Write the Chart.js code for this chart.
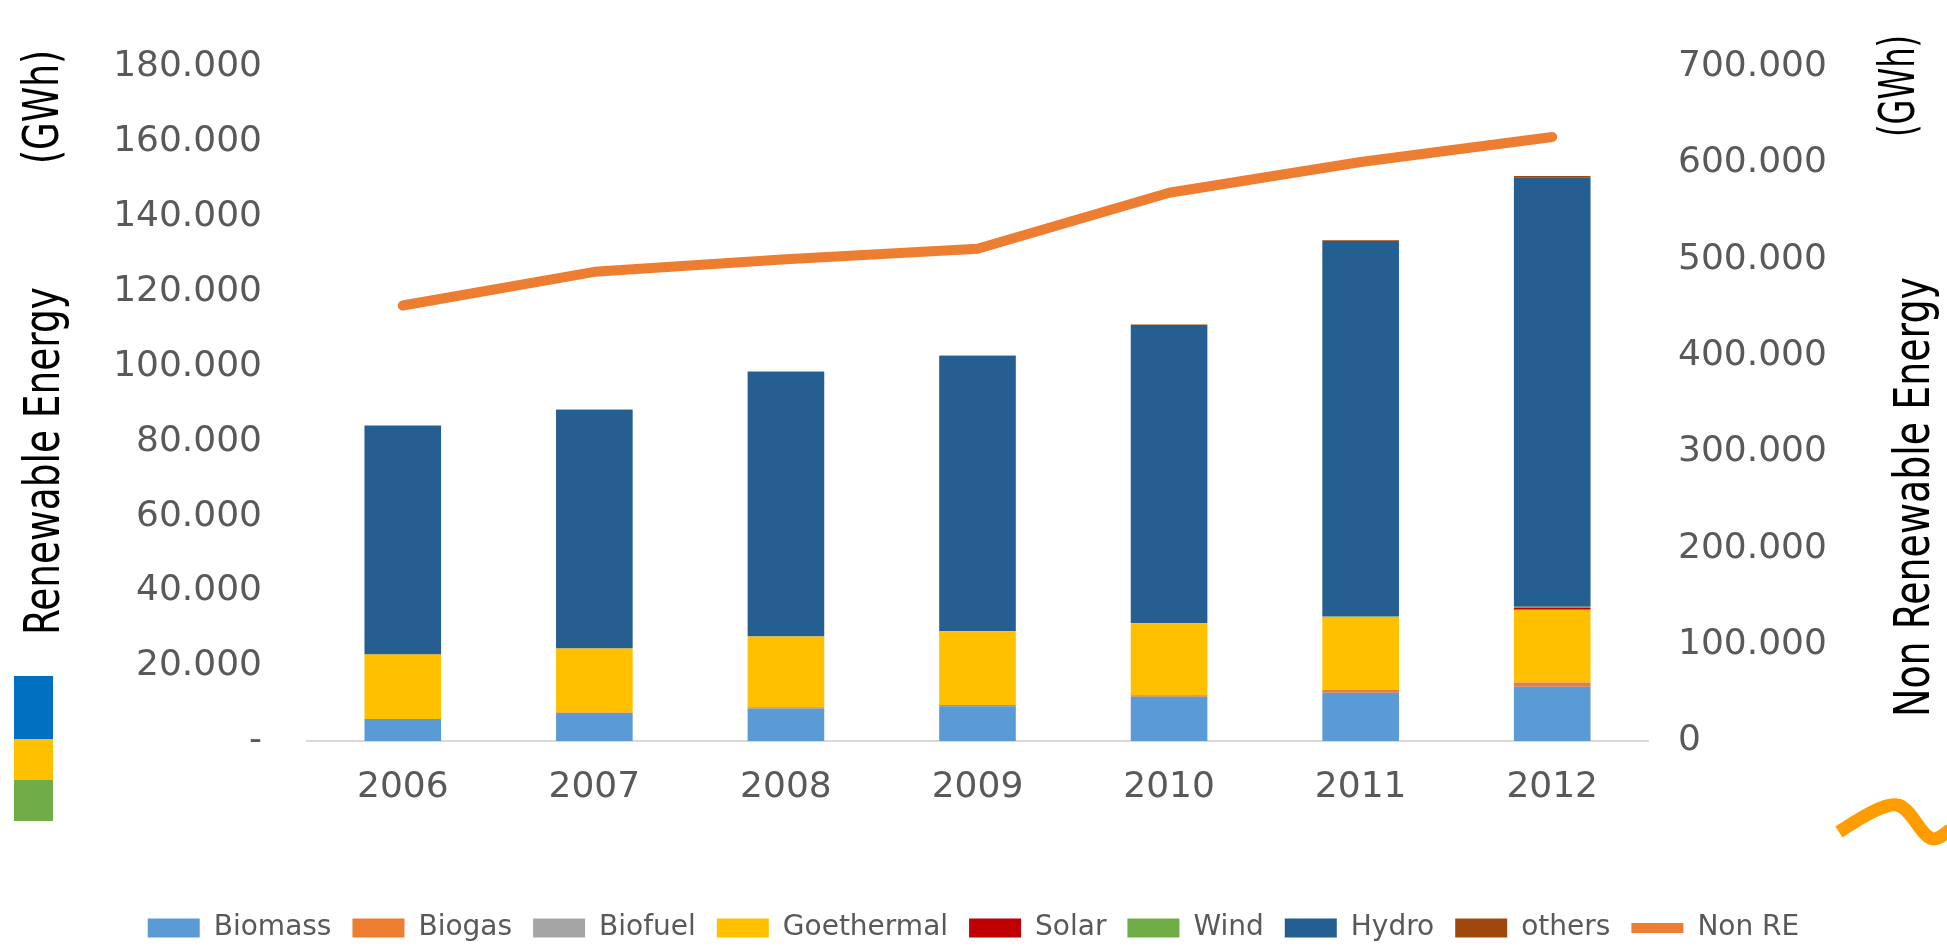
<!DOCTYPE html>
<html>
<head>
<meta charset="utf-8">
<script src="https://cdn.jsdelivr.net/npm/chart.js@4/dist/chart.umd.min.js"></script>
<style>
  html, body { margin: 0; padding: 0; background: #ffffff; }
  #wrap { position: relative; width: 1947px; height: 948px; }
</style>
</head>
<body>
<div id="wrap"><canvas id="c"></canvas></div>
<script>
// ---- data (GWh) ----
const categories = ['2006', '2007', '2008', '2009', '2010', '2011', '2012'];
const biomass    = [5900, 7500, 8700, 9300, 11800, 12900, 14500];
const biogas     = [0, 100, 300, 300, 400, 700, 1100];
const biofuel    = [0, 0, 0, 0, 0, 50, 100];
const geothermal = [17200, 17100, 18900, 19700, 19200, 19300, 19300];
const solar      = [0, 0, 0, 0, 0, 100, 500];
const wind       = [0, 0, 0, 0, 50, 200, 300];
const hydro      = [61000, 63700, 70600, 73500, 79600, 100200, 114700];
const others     = [100, 100, 100, 100, 100, 200, 300];
const nonRE      = [452000, 487000, 500000, 511000, 569000, 601000, 627000];

const leftTicksMax = 180000, leftStep = 20000;
const rightTicksMax = 700000, rightStep = 100000;

const tickFont = { family: "'DejaVu Sans', sans-serif", size: 36 };
const legendFont = { family: "'DejaVu Sans', sans-serif", size: 28 };
const titleFamily = "'Liberation Sans Narrow', 'DejaVu Sans Condensed', sans-serif";
const grey = '#595959';

function fmt(v) {
  return Math.round(v).toString().replace(/\B(?=(\d{3})+(?!\d))/g, '.');
}

function barSet(label, data, color) {
  return { type: 'bar', label, data, backgroundColor: color, borderWidth: 0,
           yAxisID: 'y', pointStyle: 'rect', barPercentage: 0.4, categoryPercentage: 1.0 };
}

const decorPlugin = {
  id: 'decor',
  afterDraw(chart) {
    const ctx = chart.ctx;
    ctx.save();
    // rotated axis titles (condensed to the reference lengths)
    ctx.fillStyle = '#000000';
    ctx.font = '50px ' + titleFamily;
    ctx.textAlign = 'center';
    ctx.textBaseline = 'alphabetic';
    const rot = (txt, x, y, len) => {
      const w = ctx.measureText(txt).width;
      ctx.save(); ctx.translate(x, y); ctx.rotate(-Math.PI / 2);
      ctx.scale(len / w, 1);
      ctx.fillText(txt, 0, 0); ctx.restore();
    };
    rot('(GWh)', 58, 107, 114);
    rot('Renewable Energy', 59, 461, 348);
    rot('(GWh)', 1914, 86, 102);
    rot('Non Renewable Energy', 1929, 497, 440);
    // colour blocks bottom-left
    ctx.fillStyle = '#0070C0'; ctx.fillRect(14, 676, 39, 63);
    ctx.fillStyle = '#FFC000'; ctx.fillRect(14, 739, 39, 41);
    ctx.fillStyle = '#70AD47'; ctx.fillRect(14, 780, 39, 41);
    // orange squiggle bottom-right
    ctx.strokeStyle = '#FF9C00';
    ctx.lineWidth = 13;
    ctx.lineCap = 'butt';
    ctx.beginPath();
    ctx.moveTo(1839, 832);
    ctx.bezierCurveTo(1860, 818, 1884, 803, 1897, 805);
    ctx.bezierCurveTo(1912, 807, 1921, 839, 1934, 839);
    ctx.bezierCurveTo(1940, 839, 1944, 834, 1950, 830);
    ctx.stroke();
    ctx.restore();
  }
};

const chart = new Chart(document.getElementById('c'), {
  data: {
    labels: categories,
    datasets: [
      barSet('Biomass', biomass, '#5B9BD5'),
      barSet('Biogas', biogas, '#ED7D31'),
      barSet('Biofuel', biofuel, '#A5A5A5'),
      barSet('Goethermal', geothermal, '#FFC000'),
      barSet('Solar', solar, '#C00000'),
      barSet('Wind', wind, '#70AD47'),
      barSet('Hydro', hydro, '#255E91'),
      barSet('others', others, '#9E480E'),
      { type: 'line', label: 'Non RE', data: nonRE, yAxisID: 'y1', borderColor: '#ED7D31',
        backgroundColor: '#ED7D31', borderWidth: 10, pointRadius: 0, pointStyle: 'line',
        borderCapStyle: 'round', borderJoinStyle: 'round', tension: 0, order: -1 }
    ]
  },
  options: {
    responsive: true,
    maintainAspectRatio: false,
    animation: false,
    layout: { padding: { top: 57, left: 0, right: 0, bottom: -4 } },
    plugins: {
      tooltip: { enabled: false },
      legend: {
        position: 'bottom',
        labels: {
          font: legendFont, color: grey, usePointStyle: true, pointStyleWidth: 52,
          boxHeight: 19, padding: 21,
          sort: (a, b) => a.datasetIndex - b.datasetIndex
        }
      }
    },
    scales: {
      x: {
        stacked: true,
        grid: { display: false, drawTicks: false },
        border: { display: true, color: '#D9D9D9', width: 2 },
        ticks: { font: tickFont, color: grey, padding: 25 },
        afterFit(s) { s.height = 152; }
      },
      y: {
        position: 'left', stacked: true, min: 0, max: leftTicksMax,
        grid: { display: false, drawTicks: false },
        border: { display: false },
        ticks: { stepSize: leftStep, font: tickFont, color: grey, padding: 45,
                 callback: v => v === 0 ? '-' : fmt(v) },
        afterFit(s) { s.width = 307; }
      },
      y1: {
        position: 'right', min: 0, max: rightTicksMax,
        grid: { display: false, drawTicks: false },
        border: { display: false },
        ticks: { stepSize: rightStep, font: tickFont, color: grey, padding: 30,
                 callback: v => v === 0 ? '0' : fmt(v) },
        afterFit(s) { s.width = 299; }
      }
    }
  },
  plugins: [decorPlugin]
});
</script>
</body>
</html>
